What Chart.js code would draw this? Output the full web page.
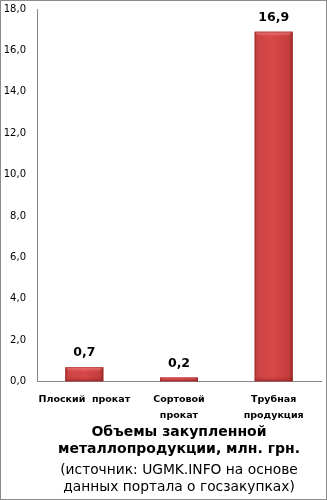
<!DOCTYPE html>
<html>
<head>
<meta charset="utf-8">
<script src="https://cdn.jsdelivr.net/npm/chart.js@4.4.1/dist/chart.umd.min.js"></script>
<style>
  html, body { margin: 0; padding: 0; background: #fff; }
  #wrap { width: 327px; height: 500px; box-sizing: border-box; border: 1px solid #8c8c8c; }
  canvas { display: block; }
</style>
</head>
<body>
<div id="wrap"><canvas id="c" width="325" height="498"></canvas></div>
<script>
const categories = [["Плоский  прокат"], ["Сортовой", "прокат"], ["Трубная", "продукция"]];
const values = [0.7, 0.2, 16.9];
const yTicks = { min: 0, max: 18, step: 2 };
const titleLines = ["Объемы закупленной", "металлопродукции, млн. грн."];
const subtitleLines = ["(источник: UGMK.INFO на основе", "данных портала о госзакупках)"];

const FONT = "'DejaVu Sans', Tahoma, sans-serif";
const fmt = v => v.toFixed(1).replace('.', ',');

const barStyle = {
  id: 'barStyle',
  afterDatasetsDraw(chart) {
    const ctx = chart.ctx;
    const meta = chart.getDatasetMeta(0);
    meta.data.forEach((bar, i) => {
      const p = bar.getProps(['x', 'y', 'base', 'width'], true);
      const l = p.x - p.width / 2, r = p.x + p.width / 2;
      const t = Math.min(p.y, p.base), b = Math.max(p.y, p.base);
      const h = b - t;
      ctx.save();
      const g = ctx.createLinearGradient(l, 0, r, 0);
      g.addColorStop(0, '#a83333');
      g.addColorStop(0.06, '#cc4444');
      g.addColorStop(0.5, '#d94848');
      g.addColorStop(0.9, '#c43d3d');
      g.addColorStop(1, '#9a2c2c');
      ctx.fillStyle = g;
      ctx.fillRect(l, t, r - l, h);
      const bev = Math.min(5, h / 2);
      const gt = ctx.createLinearGradient(0, t, 0, t + bev);
      gt.addColorStop(0, 'rgba(255,150,150,0.85)');
      gt.addColorStop(1, 'rgba(230,90,90,0.0)');
      ctx.fillStyle = gt;
      ctx.beginPath();
      ctx.moveTo(l, t); ctx.lineTo(r, t); ctx.lineTo(r - bev, t + bev); ctx.lineTo(l + bev, t + bev); ctx.closePath();
      ctx.fill();
      const gb = ctx.createLinearGradient(0, b - bev, 0, b);
      gb.addColorStop(0, 'rgba(120,20,20,0)');
      gb.addColorStop(1, 'rgba(120,20,20,0.35)');
      ctx.fillStyle = gb;
      ctx.fillRect(l, b - bev, r - l, bev);
      ctx.strokeStyle = 'rgba(150,40,40,0.6)';
      ctx.lineWidth = 1;
      ctx.strokeRect(l + 0.5, t + 0.5, r - l - 1, h - 1);
      ctx.fillStyle = '#000';
      ctx.font = "bold 12.5px " + FONT;
      ctx.textAlign = 'center';
      ctx.textBaseline = 'middle';
      ctx.fillText(fmt(values[i]), p.x, t - 14);
      ctx.restore();
    });
  }
};

new Chart(document.getElementById('c'), {
  type: 'bar',
  data: {
    labels: categories,
    datasets: [{
      data: values,
      backgroundColor: '#d94848',
      borderWidth: 0,
      barPercentage: 0.4,
      categoryPercentage: 1.0
    }]
  },
  options: {
    responsive: false,
    animation: false,
    events: [],
    layout: { padding: { top: 0, right: 5, bottom: 0, left: 0 } },
    plugins: {
      legend: { display: false },
      tooltip: { enabled: false },
      title: {
        display: true,
        position: 'bottom',
        fullSize: false,
        weight: 1000,
        text: titleLines,
        color: '#000',
        font: { family: FONT, size: 14, weight: 'bold', lineHeight: 1.2 },
        padding: { top: 1, bottom: 2 }
      },
      subtitle: {
        display: true,
        position: 'bottom',
        fullSize: false,
        weight: 2000,
        text: subtitleLines,
        color: '#000',
        font: { family: FONT, size: 13.8, weight: 'normal', lineHeight: 1.22 },
        padding: { top: 3, bottom: 3 }
      }
    },
    scales: {
      x: {
        grid: { display: false, drawTicks: false },
        border: { display: true, color: '#868686', width: 1 },
        ticks: {
          color: '#000',
          font: { family: FONT, size: 9.5, weight: 'bold', lineHeight: 1.7 },
          padding: 10,
          maxRotation: 0,
          autoSkip: false
        },
        afterFit(s) { s.height = 41; }
      },
      y: {
        min: yTicks.min,
        max: yTicks.max,
        grid: { display: true, drawOnChartArea: false, drawTicks: true, tickLength: 9, color: 'rgba(0,0,0,0)' },
        border: { display: true, color: '#868686', width: 1 },
        ticks: {
          stepSize: yTicks.step,
          color: '#000',
          font: { family: FONT, size: 10 },
          padding: 2,
          callback: v => fmt(v)
        },
        afterFit(s) { s.width = 36; }
      }
    }
  },
  plugins: [barStyle]
});
</script>
</body>
</html>
